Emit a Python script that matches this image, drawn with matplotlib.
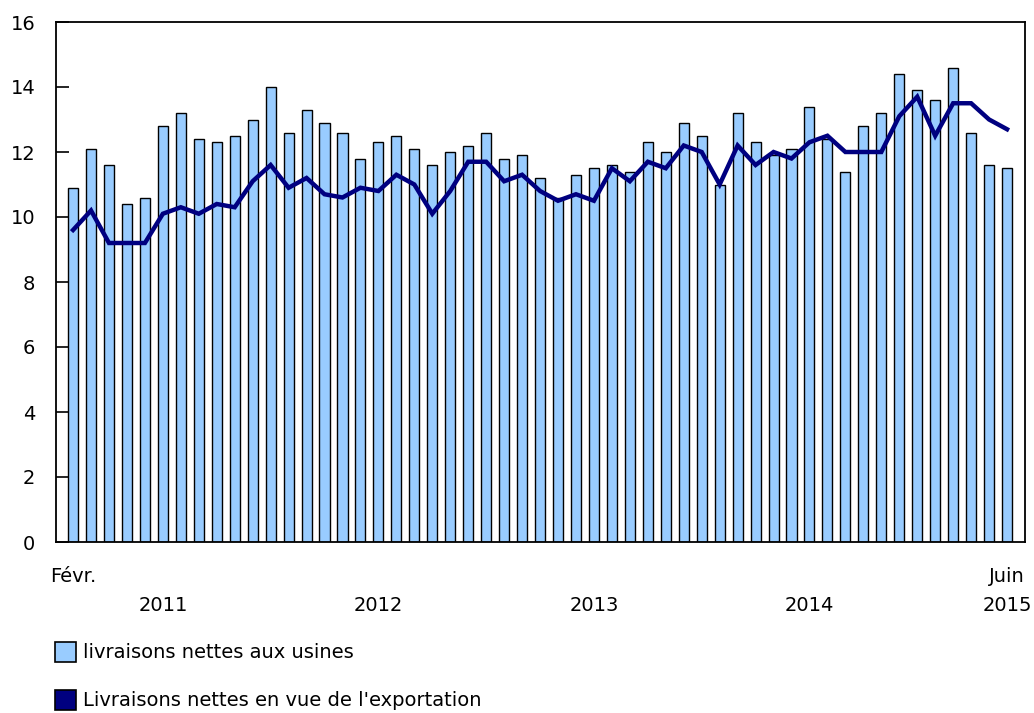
import numpy as np
import matplotlib
matplotlib.use("Agg")
import matplotlib.pyplot as plt
from matplotlib.patches import Rectangle

# Monthly values, Feb 2011 to Jun 2015
usines = [10.9, 12.1, 11.6, 10.4, 10.6, 12.8, 13.2, 12.4, 12.3, 12.5, 13.0,
          14.0, 12.6, 13.3, 12.9, 12.6, 11.8, 12.3, 12.5, 12.1, 11.6, 12.0, 12.2,
          12.6, 11.8, 11.9, 11.2, 10.6, 11.3, 11.5, 11.6, 11.4, 12.3, 12.0, 12.9,
          12.5, 11.0, 13.2, 12.3, 11.9, 12.1, 13.4, 12.4, 11.4, 12.8, 13.2, 14.4,
          13.9, 13.6, 14.6, 12.6, 11.6, 11.5]
exportation = [9.6, 10.2, 9.2, 9.2, 9.2, 10.1, 10.3, 10.1, 10.4, 10.3, 11.1,
               11.6, 10.9, 11.2, 10.7, 10.6, 10.9, 10.8, 11.3, 11.0, 10.1, 10.8, 11.7,
               11.7, 11.1, 11.3, 10.8, 10.5, 10.7, 10.5, 11.5, 11.1, 11.7, 11.5, 12.2,
               12.0, 11.0, 12.2, 11.6, 12.0, 11.8, 12.3, 12.5, 12.0, 12.0, 12.0, 13.1,
               13.7, 12.5, 13.5, 13.5, 13.0, 12.7]

month_labels = {0: "Févr.", 52: "Juin"}
year_labels = {5: "2011", 17: "2012", 29: "2013", 41: "2014", 52: "2015"}
legend_labels = ["livraisons nettes aux usines", "Livraisons nettes en vue de l'exportation"]

bar_color = "#99CCFF"
line_color = "#000080"
fs = 14

W, H = 1034, 713
fig = plt.figure(figsize=(W / 100, H / 100), dpi=100)
ax = fig.add_axes([56 / W, 1 - 542 / H, (1025 - 56) / W, (542 - 22) / H])

x = np.arange(len(usines))
ax.bar(x, usines, width=0.56, color=bar_color, edgecolor="black", linewidth=1.0, zorder=2)
ax.plot(x, exportation, color=line_color, linewidth=3.2, zorder=3, solid_joinstyle="miter")

ax.set_xlim(-0.95, len(usines) - 1 + 1.0)
ax.set_ylim(0, 16)
ax.set_yticks(range(0, 17, 2))
ax.tick_params(axis="y", direction="in", length=9, width=1.2, labelsize=fs, pad=15)
ax.tick_params(axis="x", length=0, labelbottom=False)
for sp in ax.spines.values():
    sp.set_linewidth(1.3)
    sp.set_color("black")

# month and year labels under the axis
for i, txt in month_labels.items():
    ax.annotate(txt, xy=(i, 0), xycoords="data", xytext=(0, -24.5),
                textcoords="offset points", ha="center", va="center", fontsize=fs)
for i, txt in year_labels.items():
    ax.annotate(txt, xy=(i, 0), xycoords="data", xytext=(0, -46),
                textcoords="offset points", ha="center", va="center", fontsize=fs)

# legend drawn by hand
for k, (lab, col) in enumerate(zip(legend_labels, [bar_color, line_color])):
    yc = 652 + 48 * k
    fig.patches.append(Rectangle((55 / W, 1 - (yc + 10) / H), 21 / W, 20 / H,
                                 transform=fig.transFigure, facecolor=col,
                                 edgecolor="black", linewidth=1.2))
    fig.text(83 / W, 1 - yc / H, lab, ha="left", va="center", fontsize=fs)

fig.savefig("out.png", dpi=100)
